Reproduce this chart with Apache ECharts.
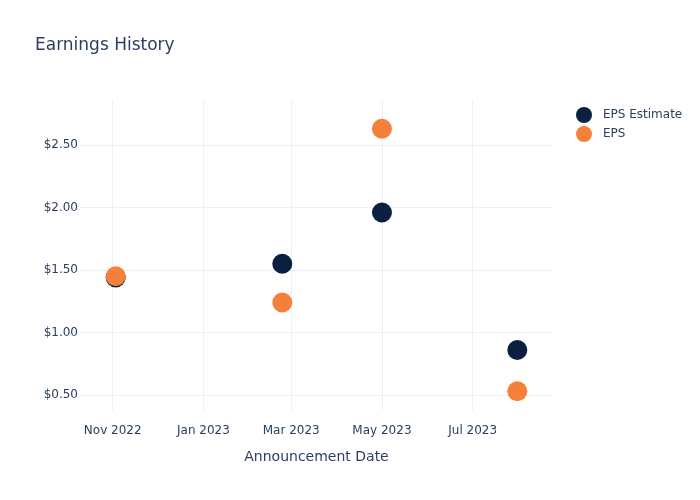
<!DOCTYPE html>
<html>
<head>
<meta charset="utf-8">
<script src="https://cdn.jsdelivr.net/npm/echarts@6/dist/echarts.min.js"></script>
<style>html,body{margin:0;padding:0;background:#fff}#c{width:700px;height:500px}</style>
</head>
<body>
<div id="c"></div>
<script>
var dates = ['2022-11-03', '2023-02-23', '2023-05-01', '2023-07-31'];
var epsEstimate = [1.44, 1.55, 1.96, 0.86];
var eps = [1.45, 1.24, 2.63, 0.53];
var yTicks = [0.5, 1.0, 1.5, 2.0, 2.5];
var xTicks = ['2022-11-01', '2023-01-01', '2023-03-01', '2023-05-01', '2023-07-01'];
var monthNames = ['Jan','Feb','Mar','Apr','May','Jun','Jul','Aug','Sep','Oct','Nov','Dec'];

function ts(s) { var p = s.split('-'); return Date.UTC(+p[0], +p[1] - 1, +p[2]); }
var font = 'DejaVu Sans, sans-serif';
var txt = '#2a3f5f';
var grid = '#ebf0f8';

var chart = echarts.init(document.getElementById('c'), null, {renderer: 'canvas'});
chart.setOption({
  animation: false,
  backgroundColor: '#fff',
  title: {
    text: 'Earnings History', left: 30, top: 32,
    textStyle: {fontFamily: font, fontSize: 17, fontWeight: 'normal', color: txt}
  },
  legend: {
    orient: 'vertical', left: 571, top: 102, itemGap: 3, itemWidth: 16, itemHeight: 16,
    icon: 'circle',
    textStyle: {fontFamily: font, fontSize: 12, color: txt, padding: [0, 0, 0, 6]}
  },
  grid: {left: 80, right: 147, top: 100, bottom: 90, containLabel: false},
  xAxis: {
    type: 'value',
    min: ts('2022-10-10'), max: ts('2023-08-24'),
    name: 'Announcement Date', nameLocation: 'middle', nameGap: 40,
    nameTextStyle: {fontFamily: font, fontSize: 14, color: txt},
    axisLine: {show: false}, axisTick: {show: false, customValues: xTicks.map(ts)},
    splitLine: {show: true, lineStyle: {color: grid, width: 1}},
    axisLabel: {
      customValues: xTicks.map(ts), fontFamily: font, fontSize: 12, color: txt, margin: 15,
      formatter: function (v) { var d = new Date(v); return monthNames[d.getUTCMonth()] + ' ' + d.getUTCFullYear(); }
    }
  },
  yAxis: {
    type: 'value', min: 0.38, max: 2.86,
    axisLine: {show: false}, axisTick: {show: false, customValues: yTicks},
    splitLine: {show: true, lineStyle: {color: grid, width: 1}},
    axisLabel: {
      customValues: yTicks, fontFamily: font, fontSize: 12, color: txt, margin: 2,
      formatter: function (v) { return '$' + v.toFixed(2); }
    }
  },
  series: [
    {
      name: 'EPS Estimate', type: 'scatter', symbolSize: 20,
      itemStyle: {color: '#0b1f40', opacity: 1},
      data: dates.map(function (d, i) { return [ts(d), epsEstimate[i]]; })
    },
    {
      name: 'EPS', type: 'scatter', symbolSize: 20,
      itemStyle: {color: '#f5803a', opacity: 1},
      data: dates.map(function (d, i) { return [ts(d), eps[i]]; })
    }
  ]
});
</script>
</body>
</html>
